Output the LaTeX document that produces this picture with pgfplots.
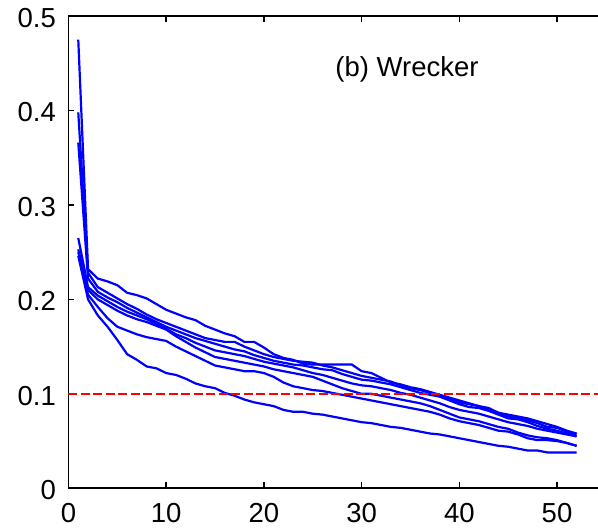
\documentclass[border=0pt]{standalone}
\usepackage{fontspec}
\setmainfont{Liberation Sans}
\usepackage{pgfplots}
\pgfplotsset{compat=1.18}
\begin{document}
\begin{tikzpicture}[x=1pt,y=1pt]
    \begin{axis}[
        % placement: 1pt here = 1px of the reference
        at               = {(68.5pt,42.7pt)},
        anchor           = south west,
        scale only axis,
        width            = 531pt,
        height           = 472.3pt,
        % Axes
        xmin = 0, xmax = 54.35,
        ymin = 0, ymax = 0.5,
        xtick = {0,10,20,30,40,50},
        ytick = {0,0.1,0.2,0.3,0.4,0.5},
        yticklabels = {0,0.1,0.2,0.3,0.4,0.5},
        xtick pos = both,
        ytick pos = left,
        tick align = inside,
        major tick length = 6pt,
        axis line style = {line width=1.8pt},
        every tick/.style = {black, line width=1.6pt},
        /pgf/number format/assume math mode = true,
        tick label style = {font=\fontsize{27.5}{32}\selectfont, inner sep=0pt},
        yticklabel style = {xshift=-12.5pt, yshift=-2pt},
        xticklabel style = {yshift=-15pt},
        % Lines
        every axis plot/.append style = {line width=2.2pt, mark=none},
    ]

        % seven runs
        \addplot[blue] coordinates {
            (1,.475) (2,.232) (3,.222) (4,.219) (5,.215) (6,.207) (7,.2045) (8,.201) (9,.195) (10,.189)
            (11,.185) (12,.181) (13,.178) (14,.172) (15,.168) (16,.164) (17,.161) (18,.155) (19,.155) (20,.149)
            (21,.142) (22,.138) (23,.136) (24,.132) (25,.131) (26,.131) (27,.131) (28,.131) (29,.131) (30,.124)
            (31,.122) (32,.117) (33,.112) (34,.110) (35,.107) (36,.105) (37,.102) (38,.099) (39,.096) (40,.093)
            (41,.090) (42,.087) (43,.083) (44,.080) (45,.078) (46,.076) (47,.074) (48,.071) (49,.068) (50,.065)
            (51,.061) (52,.058)
        };
        \addplot[blue] coordinates {
            (1,.398) (2,.228) (3,.213) (4,.207) (5,.201) (6,.195) (7,.190) (8,.184) (9,.179) (10,.175)
            (11,.171) (12,.167) (13,.163) (14,.159) (15,.157) (16,.155) (17,.155) (18,.150) (19,.146) (20,.142)
            (21,.139) (22,.137) (23,.135) (24,.134) (25,.133) (26,.130) (27,.128) (28,.125) (29,.122) (30,.119)
            (31,.117) (32,.115) (33,.113) (34,.109) (35,.106) (36,.104) (37,.101) (38,.098) (39,.095) (40,.091)
            (41,.089) (42,.087) (43,.085) (44,.080) (45,.076) (46,.074) (47,.072) (48,.069) (49,.065) (50,.064)
            (51,.060) (52,.057)
        };
        \addplot[blue] coordinates {
            (1,.366) (2,.222) (3,.208) (4,.202) (5,.197) (6,.191) (7,.186) (8,.181) (9,.176) (10,.171)
            (11,.167) (12,.163) (13,.159) (14,.156) (15,.153) (16,.150) (17,.147) (18,.145) (19,.141) (20,.138)
            (21,.135) (22,.133) (23,.131) (24,.130) (25,.128) (26,.126) (27,.125) (28,.121) (29,.118) (30,.115)
            (31,.114) (32,.112) (33,.110) (34,.107) (35,.104) (36,.101) (37,.099) (38,.097) (39,.093) (40,.089)
            (41,.086) (42,.085) (43,.082) (44,.078) (45,.074) (46,.073) (47,.070) (48,.066) (49,.063) (50,.061)
            (51,.058) (52,.055)
        };
        \addplot[blue] coordinates {
            (1,.265) (2,.213) (3,.204) (4,.198) (5,.192) (6,.187) (7,.183) (8,.179) (9,.174) (10,.169)
            (11,.163) (12,.159) (13,.154) (14,.150) (15,.146) (16,.144) (17,.142) (18,.140) (19,.137) (20,.134)
            (21,.132) (22,.130) (23,.128) (24,.125) (25,.122) (26,.120) (27,.117) (28,.114) (29,.111) (30,.109)
            (31,.108) (32,.106) (33,.104) (34,.101) (35,.099) (36,.096) (37,.093) (38,.090) (39,.086) (40,.083)
            (41,.081) (42,.079) (43,.076) (44,.073) (45,.070) (46,.068) (47,.066) (48,.063) (49,.061) (50,.059)
            (51,.057) (52,.055)
        };
        \addplot[blue] coordinates {
            (1,.253) (2,.210) (3,.200) (4,.194) (5,.188) (6,.183) (7,.179) (8,.176) (9,.172) (10,.168)
            (11,.161) (12,.155) (13,.149) (14,.144) (15,.139) (16,.137) (17,.135) (18,.133) (19,.131) (20,.129)
            (21,.126) (22,.124) (23,.122) (24,.120) (25,.118) (26,.114) (27,.110) (28,.106) (29,.103) (30,.100)
            (31,.100) (32,.098) (33,.096) (34,.094) (35,.092) (36,.090) (37,.087) (38,.083) (39,.079) (40,.075)
            (41,.073) (42,.071) (43,.068) (44,.065) (45,.063) (46,.059) (47,.056) (48,.054) (49,.053) (50,.051)
            (51,.048) (52,.045)
        };
        \addplot[blue] coordinates {
            (1,.250) (2,.205) (3,.192) (4,.180) (5,.171) (6,.167) (7,.163) (8,.160) (9,.158) (10,.156)
            (11,.150) (12,.145) (13,.140) (14,.135) (15,.130) (16,.128) (17,.126) (18,.124) (19,.124) (20,.122)
            (21,.118) (22,.112) (23,.108) (24,.106) (25,.104) (26,.103) (27,.101) (28,.099) (29,.097) (30,.095)
            (31,.093) (32,.091) (33,.089) (34,.087) (35,.085) (36,.083) (37,.081) (38,.078) (39,.074) (40,.071)
            (41,.069) (42,.067) (43,.064) (44,.061) (45,.060) (46,.057) (47,.053) (48,.051) (49,.051) (50,.050)
            (51,.048) (52,.045)
        };
        \addplot[blue] coordinates {
            (1,.246) (2,.200) (3,.183) (4,.171) (5,.157) (6,.142) (7,.136) (8,.129) (9,.127) (10,.122)
            (11,.120) (12,.116) (13,.111) (14,.108) (15,.106) (16,.101) (17,.098) (18,.094) (19,.091) (20,.089)
            (21,.087) (22,.083) (23,.081) (24,.081) (25,.079) (26,.078) (27,.076) (28,.074) (29,.072) (30,.070)
            (31,.069) (32,.067) (33,.065) (34,.064) (35,.062) (36,.060) (37,.058) (38,.057) (39,.055) (40,.053)
            (41,.051) (42,.049) (43,.047) (44,.045) (45,.044) (46,.042) (47,.040) (48,.040) (49,.038) (50,.038)
            (51,.038) (52,.038)
        };

        % threshold
        \addplot[red, line width=1.6pt, dash pattern=on 9pt off 3.5pt] coordinates {(0,0.1) (54.35,0.1)};

        \node[anchor=base west, inner sep=0pt, font=\fontsize{27.5}{32}\selectfont]
            at (axis cs:27.3,0.4356) {(b) Wrecker};
    \end{axis}
    \pgfresetboundingbox
    \path (0,0) rectangle (598,531);
\end{tikzpicture}
\end{document}
